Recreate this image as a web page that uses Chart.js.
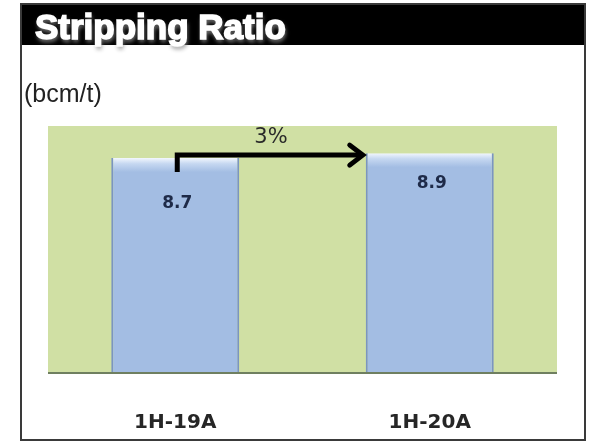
<!DOCTYPE html>
<html>
<head>
<meta charset="utf-8">
<script src="https://cdn.jsdelivr.net/npm/chart.js@4/dist/chart.umd.min.js"></script>
<style>
  html, body { margin: 0; padding: 0; background: #ffffff; }
  #wrap { width: 589px; height: 443px; }
</style>
</head>
<body>
<div id="wrap"><canvas id="c" width="589" height="443"></canvas></div>
<script>
// Stripping ratio by half-year period
const periods = ['1H-19A', '1H-20A'];
const strippingRatio = [8.7, 8.9];
const valueLabels = ['8.7', '8.9'];
const changeLabel = '3%';
const chartTitle = 'Stripping Ratio';
const unitLabel = '(bcm/t)';

// distance of each value label below its bar top (the first sits below the arrow)
const labelDrop = [45, 30];

const panel = {
  id: 'panel',
  beforeDraw(chart) {
    const { ctx, chartArea: a } = chart;
    ctx.save();
    ctx.fillStyle = '#ffffff';
    ctx.fillRect(0, 0, chart.width, chart.height);

    // plot background
    ctx.fillStyle = '#d0e0a4';
    ctx.fillRect(a.left, a.top, a.right - a.left, a.bottom - a.top);

    // header band
    ctx.fillStyle = '#000000';
    ctx.fillRect(21, 4, 565, 41);

    // header title
    ctx.font = 'bold 35px "Liberation Sans", Arial, sans-serif';
    ctx.textBaseline = 'alphabetic';
    ctx.textAlign = 'left';
    ctx.shadowColor = 'rgba(140,140,140,0.95)';
    ctx.shadowBlur = 4;
    ctx.shadowOffsetX = 1;
    ctx.shadowOffsetY = 3;
    ctx.fillStyle = '#ffffff';
    ctx.fillText(chartTitle, 35, 39);
    ctx.shadowColor = 'transparent';
    ctx.lineWidth = 1.6;
    ctx.strokeStyle = '#ffffff';
    ctx.strokeText(chartTitle, 35, 39);

    // unit label
    ctx.font = '25px "Liberation Sans", Arial, sans-serif';
    ctx.fillStyle = '#222222';
    ctx.textBaseline = 'middle';
    ctx.fillText(unitLabel, 24, 95);

    // outer frame
    ctx.strokeStyle = '#3a3a3a';
    ctx.lineWidth = 2;
    ctx.strokeRect(21, 4, 564, 436);
    ctx.restore();
  },
  afterDatasetsDraw(chart) {
    const { ctx, chartArea: a } = chart;
    const bars = chart.getDatasetMeta(0).data;
    ctx.save();

    // baseline of the plot
    ctx.strokeStyle = '#6f7f60';
    ctx.lineWidth = 2;
    ctx.beginPath();
    ctx.moveTo(a.left, a.bottom);
    ctx.lineTo(a.right, a.bottom);
    ctx.stroke();

    // value labels inside the bars
    ctx.font = 'bold 17px "DejaVu Sans", sans-serif';
    ctx.fillStyle = '#1e2a48';
    ctx.textAlign = 'center';
    ctx.textBaseline = 'middle';
    bars.forEach((bar, i) => {
      ctx.fillText(valueLabels[i], bar.x + 2, bar.y + labelDrop[i]);
    });

    // change arrow from the first bar to the second
    const b0 = bars[0], b1 = bars[1];
    const y = b0.y - 3;
    const x0 = b0.x + 2;
    const tip = b1.x - b1.width / 2 - 1;
    ctx.strokeStyle = '#000000';
    ctx.lineWidth = 5;
    ctx.lineCap = 'butt';
    ctx.lineJoin = 'miter';
    ctx.beginPath();
    ctx.moveTo(x0, y + 17);
    ctx.lineTo(x0, y);
    ctx.lineTo(tip - 2, y);
    ctx.stroke();
    ctx.lineWidth = 5;
    ctx.lineCap = 'round';
    ctx.beginPath();
    ctx.moveTo(tip - 15, y - 10);
    ctx.lineTo(tip - 2, y);
    ctx.lineTo(tip - 15, y + 10);
    ctx.stroke();

    // change label
    ctx.font = '21px "DejaVu Sans", sans-serif';
    ctx.fillStyle = '#2a2a2a';
    ctx.fillText(changeLabel, (x0 + tip) / 2, y - 18);
    ctx.restore();
  }
};

function barFill(context) {
  const chart = context.chart;
  const a = chart.chartArea;
  if (!a || context.raw === undefined) return '#a3bde3';
  const top = chart.scales.y.getPixelForValue(context.raw);
  const g = chart.ctx.createLinearGradient(0, top, 0, top + 14);
  g.addColorStop(0, '#f2f7fd');
  g.addColorStop(0.4, '#c6d8f1');
  g.addColorStop(1, '#a3bde3');
  return g;
}

new Chart(document.getElementById('c'), {
  type: 'bar',
  data: {
    labels: periods,
    datasets: [{
      data: strippingRatio,
      backgroundColor: barFill,
      borderColor: '#7b95c0',
      borderWidth: { left: 2, right: 2, top: 0, bottom: 0 },
      borderSkipped: false,
      barPercentage: 0.503,
      categoryPercentage: 1.0
    }]
  },
  options: {
    responsive: false,
    animation: false,
    events: [],
    layout: { padding: { left: 48, right: 32, top: 126, bottom: 0 } },
    plugins: {
      legend: { display: false },
      tooltip: { enabled: false },
      title: { display: false }
    },
    scales: {
      x: {
        type: 'category',
        offset: true,
        grid: { display: false },
        border: { display: false },
        ticks: {
          padding: 30,
          color: '#262626',
          font: { family: '"DejaVu Sans", sans-serif', weight: 'bold', size: 20 }
        },
        afterFit(scale) { scale.height = 70; }
      },
      y: {
        display: false,
        min: 0,
        max: 10
      }
    }
  },
  plugins: [panel]
});
</script>
</body>
</html>
